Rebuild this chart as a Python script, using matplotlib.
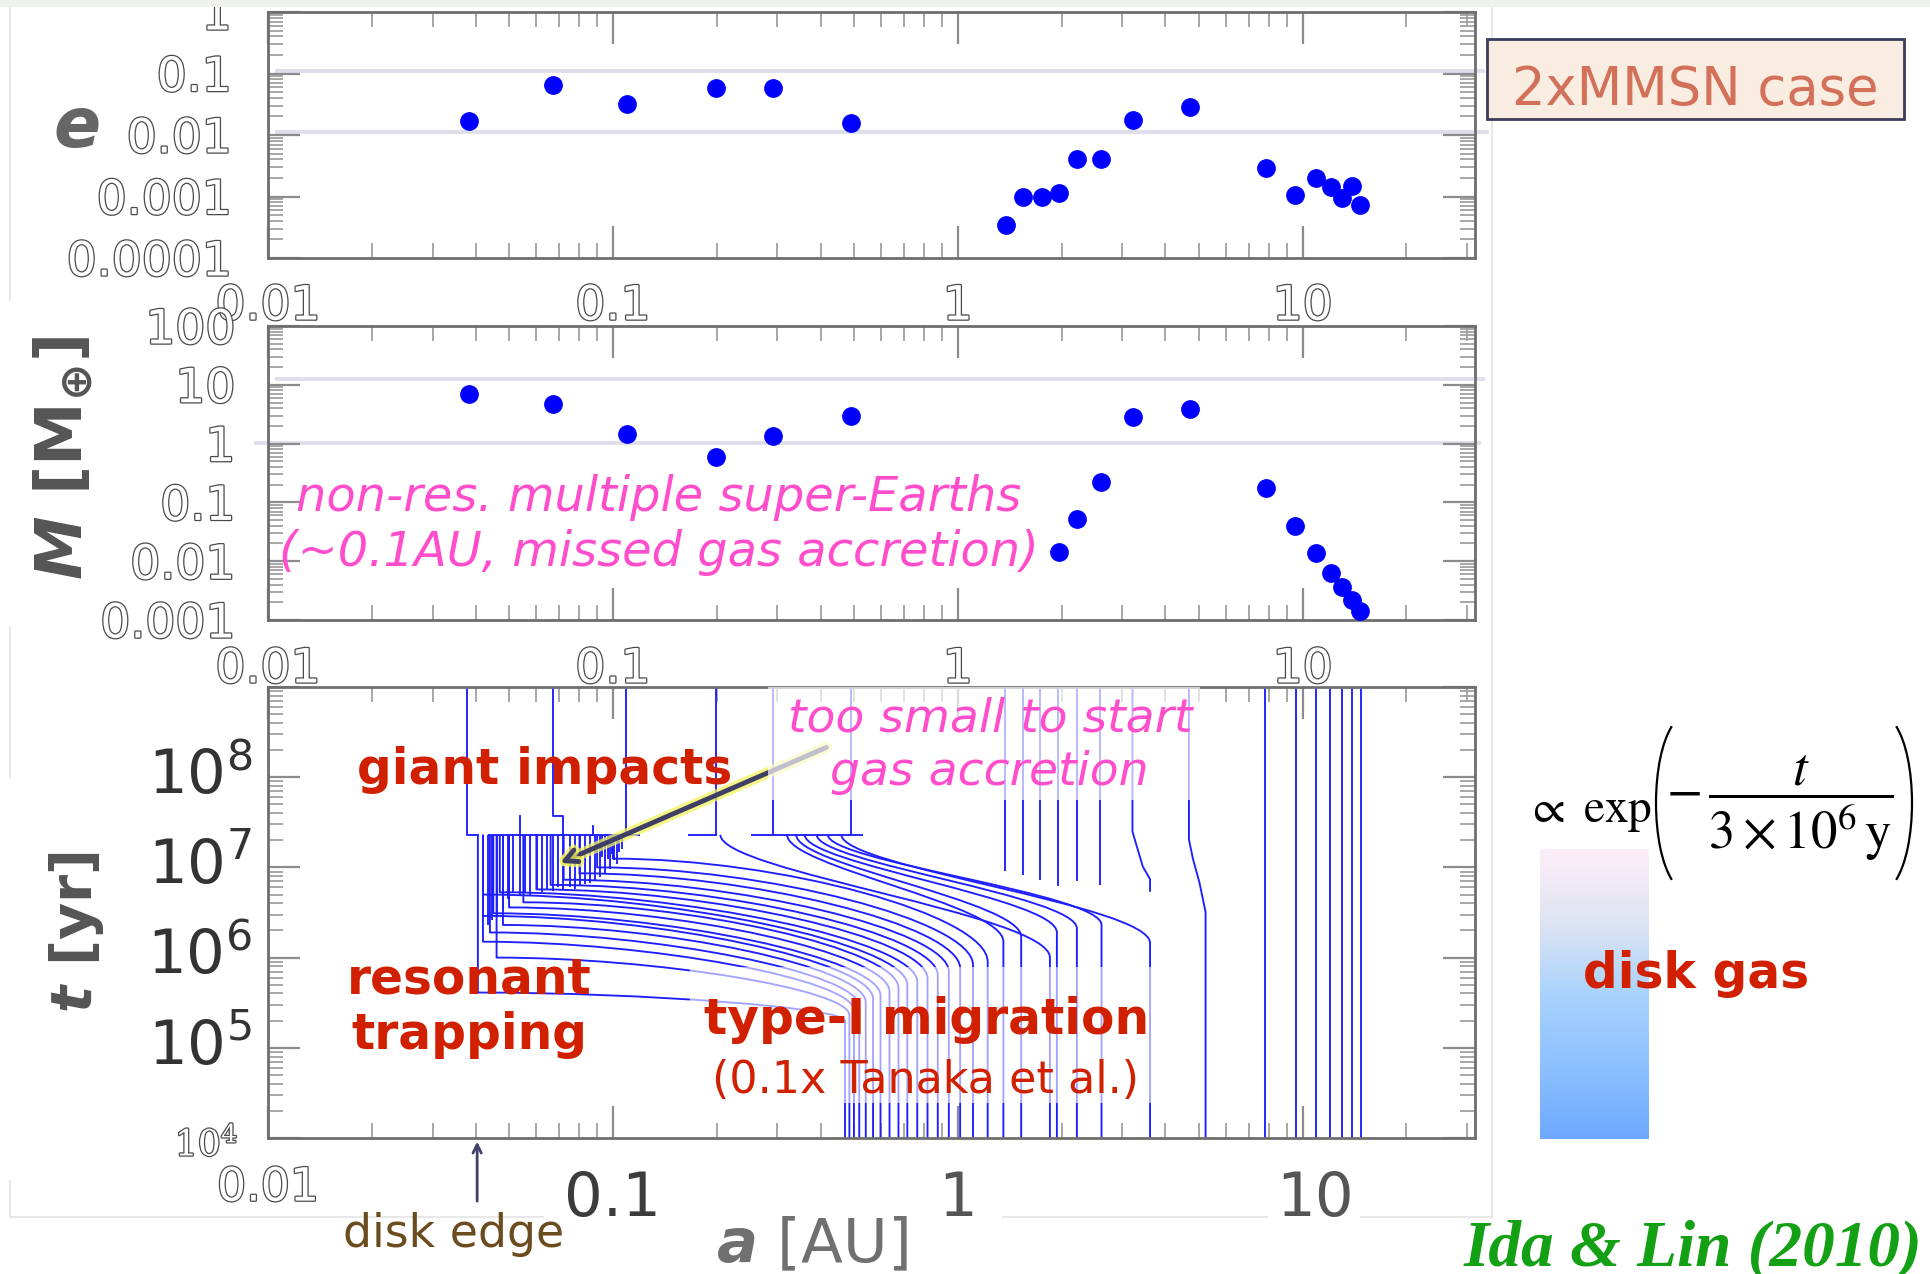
import matplotlib
matplotlib.use('Agg')
import matplotlib.pyplot as plt
import matplotlib.patheffects as pe
from matplotlib.path import Path
from matplotlib.patches import PathPatch, Rectangle, Arc
from matplotlib.lines import Line2D
from matplotlib.colors import LinearSegmentedColormap
from matplotlib.ticker import LogLocator, NullFormatter
import numpy as np

plt.rcParams['font.family'] = ['DejaVu Sans']
# bold sans for the axis-title math (M, t, a)
plt.rcParams['mathtext.fontset'] = 'custom'
plt.rcParams['mathtext.rm'] = 'DejaVu Sans:bold'
plt.rcParams['mathtext.it'] = 'DejaVu Sans:italic:bold'
plt.rcParams['mathtext.bf'] = 'DejaVu Sans:bold'

W, H = 1930, 1274

# ---- final planets: eccentricity vs a [AU] ----
e_a = [0.0383, 0.067, 0.110, 0.1995, 0.292, 0.49, 1.38, 1.55, 1.75, 1.96, 2.22,
       2.61, 3.22, 4.71, 7.83, 9.53, 10.9, 12.1, 13.0, 13.9, 14.7]
e_val = [0.0169, 0.065, 0.032, 0.059, 0.0577, 0.0155, 0.00034, 0.0010, 0.0010,
         0.00115, 0.0041, 0.0041, 0.0176, 0.028, 0.0029, 0.00106, 0.0020,
         0.00145, 0.00093, 0.0015, 0.00073]

# ---- final planets: mass [M_earth] vs a [AU] ----
m_a = [0.0383, 0.067, 0.110, 0.1995, 0.292, 0.49, 1.96, 2.22, 2.61, 3.22, 4.71,
       7.83, 9.53, 10.9, 12.1, 13.0, 13.9, 14.7]
m_val = [7.0, 4.7, 1.48, 0.585, 1.33, 2.96, 0.0143, 0.053, 0.226, 2.85, 3.95,
         0.174, 0.039, 0.0137, 0.0063, 0.0036, 0.0022, 0.0014]

# ---- orbital evolution a(t) ----
t_gi = 2.3e7  # giant impact stage

# outer cores that stay in place
outer_a = [7.80, 9.55, 10.96, 11.98, 13.0, 13.9, 14.8]
# late embryos between 1 and 3 AU
late_a = [1.37, 1.55, 1.73, 1.95, 2.21, 2.59]
late_t = [9.1e6, 8.3e6, 7.3e6, 6.2e6, 7.1e6, 6.3e6]

# type-I migrators captured in the resonant chain at the disk edge
chain_a0 = [0.471, 0.485, 0.500, 0.518, 0.541, 0.568, 0.597, 0.634, 0.673,
            0.714, 0.763, 0.817, 0.875, 0.942, 1.016, 1.107, 1.221]
chain_turn = [2.0e5, 2.3e5, 2.6e5, 2.9e5, 3.2e5, 3.5e5, 3.8e5, 4.2e5, 4.6e5,
              5.0e5, 5.4e5, 5.9e5, 6.4e5, 7.0e5, 7.6e5, 8.3e5, 9.0e5]
chain_a1 = [0.0406, 0.046, 0.042, 0.044, 0.048, 0.042, 0.045, 0.050, 0.055,
            0.042, 0.047, 0.060, 0.066, 0.072, 0.080, 0.090, 0.100]
chain_t1 = [4.1e5, 1.0e6, 1.5e6, 1.9e6, 2.3e6, 2.9e6, 3.1e6, 3.6e6, 4.1e6,
            5.0e6, 5.3e6, 5.7e6, 6.4e6, 7.3e6, 8.6e6, 1.0e7, 1.25e7]

# migrators still drifting at the giant impact stage (0.2-0.5 AU)
mid_a0 = [1.356, 1.527, 1.85, 1.938, 2.215, 2.611, 3.61]
mid_turn = [1.5e6, 1.7e6, 1.0e6, 1.9e6, 2.1e6, 2.3e6, 1.45e6]
mid_a1 = [0.32, 0.34, 0.205, 0.36, 0.39, 0.42, 0.46]

# resonant chain members between capture and the giant impacts
comb_a = [0.0435, 0.0445, 0.0460, 0.0481, 0.0497, 0.0514, 0.0537, 0.0556, 0.0574,
          0.0601, 0.0621, 0.0642, 0.0671, 0.0694, 0.0718, 0.0751, 0.0776, 0.0802,
          0.0830, 0.0858, 0.0887, 0.0917, 0.0948, 0.0980, 0.1025,
          0.0930, 0.0965, 0.0995, 0.1010, 0.1040, 0.1060]
comb_t0 = [2.3e6, 2.6e6, 2.9e6, 3.3e6, 4.5e6, 5.2e6, 5.0e6, 5.4e6, 4.8e6,
           5.6e6, 5.3e6, 5.8e6, 5.5e6, 6.0e6, 5.6e6, 6.1e6, 5.8e6, 6.3e6,
           6.5e6, 6.8e6, 7.2e6, 7.8e6, 8.5e6, 9.5e6, 1.1e7,
           1.3e7, 1.25e7, 1.4e7, 1.2e7, 1.5e7, 1.6e7]

# mergers at the giant impact stage
merge_lo = [0.0434, 0.165, 0.252]
merge_hi = [0.120, 0.200, 0.530]

# survivors after the giant impacts
surv_a = [[0.0377, 0.0377, 0.0406], [0.067, 0.067, 0.0719, 0.0719],
          [0.1093, 0.1093], [0.199, 0.199], [0.291, 0.291], [0.49, 0.49],
          [0.0537, 0.0537], [0.0877, 0.0877]]
surv_t = [[1e9, 2.3e7, 2.3e7], [1e9, 3.7e7, 3.7e7, 2.3e7],
          [1e9, 2.3e7], [1e9, 2.3e7], [1e9, 2.3e7], [1e9, 2.3e7],
          [3.7e7, 2.3e7], [2.9e7, 2.3e7]]

# cores at 3-5 AU that shift slightly
bent_a = [[3.21, 3.21, 3.30, 3.44, 3.61, 3.61],
          [4.68, 4.68, 4.81, 5.02, 5.23, 5.23]]
bent_t = [[1e9, 2.5e7, 1.74e7, 1.02e7, 7.4e6, 5.5e6],
          [1e9, 2.04e7, 1.23e7, 6.8e6, 3.2e6, 1e4]]

# axis ticks
x_ticks = [0.01, 0.1, 1, 10]
x_labels = ['0.01', '0.1', '1', '10']
e_ticks = [1e-4, 1e-3, 1e-2, 1e-1, 1]
e_labels = ['0.0001', '0.001', '0.01', '0.1', '1']
m_ticks = [1e-3, 1e-2, 1e-1, 1, 10, 100]
m_labels = ['0.001', '0.01', '0.1', '1', '10', '100']
t_ticks = [1e5, 1e6, 1e7, 1e8]
t_labels = [r'$10^{5}$', r'$10^{6}$', r'$10^{7}$', r'$10^{8}$']

fig = plt.figure(figsize=(W / 100, H / 100), dpi=100)


def rect(x0, y0, x1, y1):
    return [x0 / W, 1 - y1 / H, (x1 - x0) / W, (y1 - y0) / H]


def ftext(x, y, s, **kw):
    return fig.text(x / W, 1 - y / H, s, **kw)


def fline(xs, ys, **kw):
    fig.add_artist(Line2D([x / W for x in xs], [1 - y / H for y in ys],
                          transform=fig.transFigure, **kw))


HOLLOW = [pe.Stroke(linewidth=1.8, foreground='#4a4a4a'), pe.Normal()]
BLUE = '#1e1eff'
RED = '#d02000'
PINK = '#ff4dcc'

# light page frame and top strip
fig.add_artist(Rectangle((0, 1 - 7 / H), 1, 7 / H, transform=fig.transFigure,
                         facecolor='#eef1ec', edgecolor='none', zorder=5))
frame = dict(color='#e8e8e8', lw=1.5, zorder=-1)
fline([10, 10], [8, 300], **frame)
fline([10, 10], [627, 777], **frame)
fline([10, 10], [1181, 1217], **frame)
fline([10, 543], [1217, 1217], **frame)
fline([1003, 1267], [1217, 1217], **frame)
fline([1361, 1492], [1217, 1217], **frame)
fline([1492, 1492], [8, 1217], **frame)


def style_axes(ax, ylim):
    ax.set_xscale('log')
    ax.set_yscale('log')
    ax.set_xlim(0.01, 31.6)
    ax.set_ylim(*ylim)
    for s in ax.spines.values():
        s.set_color('#6e6e6e')
        s.set_linewidth(2)
    for axis in (ax.xaxis, ax.yaxis):
        axis.set_major_locator(LogLocator(base=10, numticks=20))
        axis.set_minor_locator(LogLocator(base=10, subs=np.arange(2, 10), numticks=20))
        axis.set_minor_formatter(NullFormatter())
    ax.tick_params(which='both', direction='in', top=True, right=True,
                   labelleft=False, labelbottom=False)
    ax.tick_params(which='major', length=23, width=1.6, color='#8c8c8c')
    ax.tick_params(which='minor', length=11, width=1.3, color='#a0a0a0')


ax_e = fig.add_axes(rect(268, 12, 1475, 258))
ax_m = fig.add_axes(rect(268, 326, 1475, 620))
ax_t = fig.add_axes(rect(268, 687, 1475, 1138))
style_axes(ax_e, (1e-4, 1))
style_axes(ax_m, (1e-3, 100))
style_axes(ax_t, (1e4, 1e9))

# hollow tick labels of the two upper panels
for ax, ticks, labels, xpos, ypos in ((ax_e, e_ticks, e_labels, -0.030, -0.179),
                                      (ax_m, m_ticks, m_labels, -0.027, -0.153)):
    for v, s in zip(ticks, labels):
        ax.text(xpos, v, s, transform=ax.get_yaxis_transform(), ha='right',
                va='center_baseline', fontsize=34, color='white', path_effects=HOLLOW)
    for v, s in zip(x_ticks, x_labels):
        ax.text(v, ypos, s, transform=ax.get_xaxis_transform(), ha='center',
                va='center_baseline', fontsize=34, color='white', path_effects=HOLLOW)

# faint horizontal guide lines across the upper panels
guide = dict(color='#dedeed', lw=2.8, zorder=1, clip_on=False, solid_capstyle='butt')
ax_e.plot([0.006, 1.008], [0.109, 0.109], transform=ax_e.get_yaxis_transform(), **guide)
ax_e.plot([0.006, 1.012], [0.0111, 0.0111], transform=ax_e.get_yaxis_transform(), **guide)
ax_m.plot([0.006, 1.008], [12.5, 12.5], transform=ax_m.get_yaxis_transform(), **guide)
ax_m.plot([-0.012, 1.005], [1.03, 1.03], transform=ax_m.get_yaxis_transform(), **guide)

dot = dict(marker='o', ms=12.5, color='#0000ff', ls='none', zorder=3, clip_on=False)
ax_e.plot(e_a, e_val, **dot)
ax_m.plot(m_a, m_val, **dot)

# ---- a(t) tracks ----
LW = 1.35
MOVE, LINE, CURVE = Path.MOVETO, Path.LINETO, Path.CURVE4


def add_track(verts, codes):
    ax_t.add_patch(PathPatch(Path(verts, codes), fill=False, edgecolor=BLUE,
                             lw=LW, zorder=2, joinstyle='round'))


for a0, tb, a1, t1 in zip(chain_a0, chain_turn, chain_a1, chain_t1):
    dx = np.log10(a0 / a1)
    dy = np.log10(t1 / tb)
    add_track([(a0, 1e4), (a0, tb), (a0, tb * 10 ** (0.45 * dy)),
               (a1 * 10 ** (0.45 * dx), t1), (a1, t1), (a1, t_gi)],
              [MOVE, LINE, CURVE, CURVE, CURVE, LINE])

for a0, tb, a1 in zip(mid_a0, mid_turn, mid_a1):
    dy = np.log10(t_gi / tb)
    add_track([(a0, 1e4), (a0, tb), (a0, tb * 10 ** (0.35 * dy)),
               (a1, t_gi / 10 ** (0.3 * dy)), (a1, t_gi)],
              [MOVE, LINE, CURVE, CURVE, CURVE])

ax_t.vlines(comb_a, comb_t0, t_gi, colors=BLUE, lw=LW, zorder=2)
ax_t.vlines(outer_a, 1e4, 1e9, colors=BLUE, lw=LW, zorder=2)
ax_t.vlines(late_a, late_t, 1e9, colors=BLUE, lw=LW, zorder=2)
ax_t.hlines([t_gi] * len(merge_lo), merge_lo, merge_hi, colors=BLUE, lw=LW, zorder=2)
for xs, ys in zip(surv_a + bent_a, surv_t + bent_t):
    ax_t.plot(xs, ys, color=BLUE, lw=LW, zorder=2)

# arrow pointing at the giant impact zone
ann = ax_t.annotate('', xy=(0.0702, 1.12e7), xytext=(0.416, 2.14e8),
                    arrowprops=dict(arrowstyle='->,head_length=0.9,head_width=0.45',
                                    color='#3f3f66', lw=3.5, shrinkA=0, shrinkB=0),
                    zorder=3)
ann.arrow_patch.set_path_effects([pe.Stroke(linewidth=8, foreground='#f2f25a', alpha=0.75),
                                  pe.Normal()])

# translucent panels behind the annotations
ax_t.add_patch(Rectangle((0.4143, 0.7494), 0.3579, 0.2506, transform=ax_t.transAxes,
                         facecolor='white', alpha=0.68, edgecolor='none', zorder=4))
ax_t.add_patch(Rectangle((0.3496, 0.0776), 0.3828, 0.3016, transform=ax_t.transAxes,
                         facecolor='white', alpha=0.6, edgecolor='none', zorder=4))

# disk edge marker
ax_t.annotate('', xy=(0.0404, -0.008), xytext=(0.0404, -0.14),
              xycoords=('data', 'axes fraction'), textcoords=('data', 'axes fraction'),
              arrowprops=dict(arrowstyle='->,head_length=0.6,head_width=0.3',
                              color='#40406a', lw=2, shrinkA=0, shrinkB=0))

# tick labels of the evolution panel
for v, s in zip(t_ticks, t_labels):
    ax_t.text(-0.013, v, s, transform=ax_t.get_yaxis_transform(), ha='right',
              va='center', fontsize=44, color='#333333', math_fontfamily='dejavusans')
ax_t.annotate(r'$10^{4}$', xy=(-0.025, 1e4), xycoords=ax_t.get_yaxis_transform(),
              xytext=(0, -5), textcoords='offset points', ha='right', va='center',
              fontsize=26, color='white', path_effects=HOLLOW, math_fontfamily='dejavuserif')
ax_t.text(0.01, -0.10, '0.01', transform=ax_t.get_xaxis_transform(), ha='center',
          va='center_baseline', fontsize=33, color='white', path_effects=HOLLOW)
ax_t.text(0.1, -0.123, '0.1', transform=ax_t.get_xaxis_transform(), ha='center',
          va='center_baseline', fontsize=44, color='#3c3c3c')
ax_t.text(1, -0.122, '1', transform=ax_t.get_xaxis_transform(), ha='center',
          va='center_baseline', fontsize=44, color='#555555')
ax_t.annotate('10', xy=(10, -0.123), xycoords=ax_t.get_xaxis_transform(),
              xytext=(9, 0), textcoords='offset points', ha='center',
              va='center_baseline', fontsize=44, color='#555555')

# ---- axis titles ----
ftext(77, 147, 'e', fontsize=50, weight='bold', style='italic', color='#666666',
      ha='center', va='baseline')
ftext(63, 458, r'$M\ [\mathrm{M}_{\oplus}]$', fontsize=46, color='#555555',
      rotation=90, ha='center', va='center')
ftext(77, 932, r'$t$ [yr]', fontsize=41, weight='bold', color='#555555',
      rotation=90, ha='center', va='center')
ftext(812, 1246, r'$a$ [AU]', fontsize=44, color='#707070', ha='center', va='center')

# ---- annotations ----
ftext(659, 511, 'non-res. multiple super-Earths', fontsize=34.5, style='italic',
      color=PINK, ha='center', va='baseline')
ftext(659, 566, '(~0.1AU, missed gas accretion)', fontsize=34.5, style='italic',
      color=PINK, ha='center', va='baseline')
ftext(990, 732, 'too small to start', fontsize=34, style='italic', color=PINK,
      ha='center', va='baseline')
ftext(989, 785, 'gas accretion', fontsize=34, style='italic', color=PINK,
      ha='center', va='baseline')
ftext(545, 784, 'giant impacts', fontsize=35, weight='bold', color=RED,
      ha='center', va='baseline')
ftext(469, 993, 'resonant', fontsize=35, weight='bold', color=RED,
      ha='center', va='baseline')
ftext(469, 1049, 'trapping', fontsize=35, weight='bold', color=RED,
      ha='center', va='baseline')
ftext(927, 1034, 'type-I migration', fontsize=35, weight='bold', color=RED,
      ha='center', va='baseline')
ftext(925, 1093, '(0.1x Tanaka et al.)', fontsize=32, color=RED,
      ha='center', va='baseline')
ftext(454, 1247, 'disk edge', fontsize=33, color='#6b4c1e', ha='center', va='baseline')

# case label
fig.add_artist(Rectangle((1487 / W, 1 - 119 / H), 417 / W, 80 / H, transform=fig.transFigure,
                         facecolor='#f9ece0', edgecolor='#3c3c5c', lw=2, zorder=3))
ftext(1695, 105, '2xMMSN case', fontsize=38, color='#d2705a', ha='center',
      va='baseline', zorder=4)

# disk gas depletion bar
ax_g = fig.add_axes(rect(1540, 849, 1649, 1139))
gas_cmap = LinearSegmentedColormap.from_list(
    'diskgas', ['#fdeef9', '#dfe4f2', '#a9d3fc', '#8cc0ff', '#6ea9ff'])
ax_g.imshow(np.linspace(0, 1, 256)[:, None], aspect='auto', cmap=gas_cmap,
            extent=[0, 1, 0, 1], origin='upper')
ax_g.axis('off')
ftext(1696, 988, 'disk gas', fontsize=35, weight='bold', color=RED,
      ha='center', va='baseline')

# decay law: exp(-t / 3e6 y) with tall parentheses
ftext(1652, 822, r'$\propto\ \mathrm{exp}$', fontsize=34, color='black',
      ha='right', va='baseline', math_fontfamily='stix')
ftext(1780, 808, r'$-\,\dfrac{t}{3\times10^{6}\,\mathrm{y}}$', fontsize=38,
      color='black', ha='center', va='center', math_fontfamily='stix')
for cx, th1, th2 in ((1686, 100.4, 259.6), (1882, -79.6, 79.6)):
    fig.add_artist(Arc((cx / 100, (H - 803) / 100), 0.60, 1.74, theta1=th1, theta2=th2,
                       transform=fig.dpi_scale_trans, color='black', lw=1.6))

ftext(1922, 1266, 'Ida & Lin (2010)', family='Liberation Serif', weight='bold',
      style='italic', fontsize=47, color='#14a014', ha='right', va='baseline')

fig.savefig('out.png', dpi=100)
